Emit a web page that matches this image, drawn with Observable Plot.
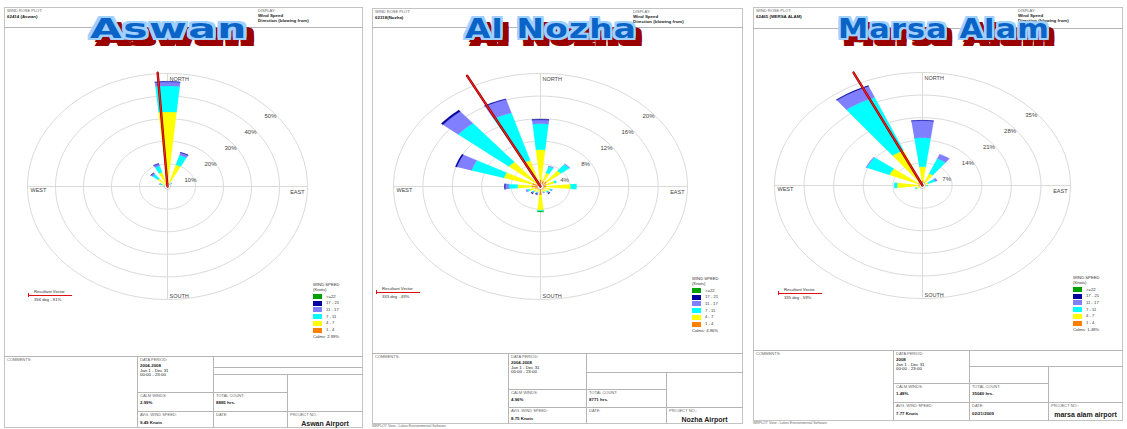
<!DOCTYPE html>
<html><head><meta charset="utf-8">
<script src="https://cdn.jsdelivr.net/npm/d3@7"></script>
<script src="https://cdn.jsdelivr.net/npm/@observablehq/plot@0.6"></script>
<style>
body{margin:0;background:#fff;}
#page{position:relative;width:1127px;height:429px;overflow:hidden;background:#fff;font-family:"Liberation Sans",Arial,sans-serif;}
.box{position:absolute;border:1px solid #c4c4c4;box-sizing:border-box;}
.hl{position:absolute;height:0;border-top:1px solid #b5b5b5;}
.vl{position:absolute;width:0;border-left:1px solid #b5b5b5;}
.lab{position:absolute;font-size:4px;color:#666;white-space:nowrap;line-height:1;}
.val{position:absolute;font-size:4.4px;color:#222;font-weight:bold;white-space:nowrap;line-height:1;}
.proj{position:absolute;font-size:7px;color:#222;font-weight:bold;white-space:nowrap;line-height:1;transform:translateX(-50%);}
.title{position:absolute;font-family:"DejaVu Sans",sans-serif;font-weight:bold;font-size:27px;line-height:1;color:#0a64c8;white-space:nowrap;letter-spacing:1px;
 text-shadow:-2px -2px 0 #9fd0ff,2px -2px 0 #9fd0ff,-2px 2px 0 #9fd0ff,2px 2px 0 #9fd0ff,0 2px 0 #9fd0ff,2px 0 0 #9fd0ff,0 -2px 0 #9fd0ff,-2px 0 0 #9fd0ff,
 3px 4px 0 #9a0000,7px 8px 0 #9a0000,7px 4px 0 #9a0000,3px 8px 0 #9a0000,5px 6px 0 #9a0000,6px 8px 0 #9a0000;transform-origin:0 0;}
.leg{position:absolute;font-size:4.2px;color:#333;white-space:nowrap;line-height:1;}
.sw{position:absolute;width:9px;height:5px;}
.plotwrap{position:absolute;}
</style></head>
<body><div id="page"></div>
<script>
// ---------------- data ----------------
const stations = ["Aswan", "Al Nozha", "Marsa Alam"];
const stationIds = ["62414 (Aswan)", "62318(Nozha)", "62465 (MERSA ALAM)"];
const projectNames = ["Aswan Airport", "Nozha Airport", "marsa alam airport"];
const dataPeriods = [["2004-2008", "Jan 1 - Dec 31", "00:00 - 23:00"], ["2004-2008", "Jan 1 - Dec 31", "00:00 - 23:00"], ["2008", "Jan 1 - Dec 31", "00:00 - 23:00"]];
const calmWinds = ["2.99%", "4.96%", "1.48%"];
const totalCounts = ["8885 hrs.", "8771 hrs.", "35040 hrs."];
const avgSpeeds = ["9.49 Knots", "8.75 Knots", "7.77 Knots"];
const dates = ["", "", "02/21/2009"];
const resultantDir = [356, 333, 335];
const resultantPct = ["81%", "49%", "59%"];
const resultantLen = [50.5, 22, 38.6];

const speedBins = ["1 - 4", "4 - 7", "7 - 11", "11 - 17", "17 - 21", ">=22"];
const speedColors = ["#FF8000", "#FFFF00", "#00FFFF", "#8080FF", "#0000A0", "#00A000"];

const dirs16 = [0, 22.5, 45, 67.5, 90, 112.5, 135, 157.5, 180, 202.5, 225, 247.5, 270, 292.5, 315, 337.5];
const dirs12 = [0, 30, 60, 90, 120, 150, 180, 210, 240, 270, 300, 330];

// Aswan (% of time, per direction, per speed class)
const aswan_1_4   = [1.0, 0.5, 0.3, 0.2, 0.2, 0.2, 0.2, 0.2, 0.2, 0.2, 0.2, 0.3, 0.4, 0.8, 1.0, 1.0];
const aswan_4_7   = [32.0, 9.5, 1.0, 0.3, 0.2, 0.1, 0.1, 0.1, 0.1, 0.1, 0.1, 0.2, 0.5, 1.2, 3.5, 5.5];
const aswan_7_11  = [11.5, 4.5, 0.6, 0.1, 0, 0, 0, 0, 0, 0, 0, 0.1, 0.3, 0.8, 2.4, 3.0];
const aswan_11_17 = [1.8, 1.2, 0.2, 0, 0, 0, 0, 0, 0, 0, 0, 0, 0.1, 0.3, 0.8, 1.0];
const aswan_17_21 = [0.2, 0.1, 0, 0, 0, 0, 0, 0, 0, 0, 0, 0, 0, 0, 0.1, 0.1];
const aswan_22    = [0, 0, 0, 0, 0, 0, 0, 0, 0, 0, 0, 0, 0, 0, 0, 0];

// Al Nozha
const nozha_1_4   = [1.2, 1.0, 1.1, 0.8, 0.8, 0.6, 0.6, 0.5, 1.5, 0.6, 0.6, 0.8, 1.2, 1.2, 0.5, 1.0];
const nozha_4_7   = [5.3, 1.5, 2.5, 1.2, 3.3, 0.8, 0.6, 0.5, 2.7, 0.5, 0.6, 0.8, 1.9, 4.0, 5.1, 3.8];
const nozha_7_11  = [4.6, 1.2, 1.5, 0.3, 0.8, 0.2, 0.2, 0.1, 0.2, 0.1, 0.2, 0.3, 1.2, 4.6, 8.9, 8.8];
const nozha_11_17 = [0.7, 0.1, 0.1, 0, 0, 0.1, 0.2, 0.1, 0, 0.2, 0.2, 0.2, 0.5, 2.1, 2.7, 2.5];
const nozha_17_21 = [0.1, 0, 0, 0, 0, 0, 0.1, 0, 0, 0.1, 0.1, 0, 0.1, 0.2, 0.3, 0.1];
const nozha_22    = [0, 0, 0, 0, 0, 0, 0, 0, 0.1, 0, 0, 0, 0, 0, 0, 0];

// Marsa Alam (12 sectors)
const marsa_1_4   = [1.5, 1.0, 0.5, 0.5, 0.4, 0.3, 0.3, 0.4, 0.6, 1.0, 1.2, 1.5];
const marsa_4_7   = [4.3, 3.0, 1.0, 0.5, 0.2, 0.1, 0.2, 0.4, 1.0, 5.0, 7.3, 10.2];
const marsa_7_11  = [9.0, 5.0, 1.8, 0.3, 0, 0, 0, 0.1, 0.3, 0.7, 5.8, 17.9];
const marsa_11_17 = [5.3, 1.5, 0.5, 0, 0, 0, 0, 0, 0, 0, 0.2, 3.7];
const marsa_17_21 = [0.1, 0, 0, 0, 0, 0, 0, 0, 0, 0, 0, 0.2];
const marsa_22    = [0, 0, 0, 0, 0, 0, 0, 0, 0, 0, 0, 0];

const aswanRings = [10, 20, 30, 40, 50];
const nozhaRings = [4, 8, 12, 16, 20];
const marsaRings = [7, 14, 21, 28, 35];

const stationData = [
  {dirs: dirs16, bins: [aswan_1_4, aswan_4_7, aswan_7_11, aswan_11_17, aswan_17_21, aswan_22], rings: aswanRings},
  {dirs: dirs16, bins: [nozha_1_4, nozha_4_7, nozha_7_11, nozha_11_17, nozha_17_21, nozha_22], rings: nozhaRings},
  {dirs: dirs12, bins: [marsa_1_4, marsa_4_7, marsa_7_11, marsa_11_17, marsa_17_21, marsa_22], rings: marsaRings}
];

// ---------------- layout (page pixels) ----------------
const panels = [
  {left: 4, right: 363, top: 7, bottom: 428, hdr: 27, cx: 167, cy: 186, rx: 140, ry: 113, idRight: 258,
   tt: 356, c1: 137, c2: 213, c3: 287, hA: 367, hB: 374, hC: 392, hD: 411,
   titleX: 169, titleW: 158, legX: 313, legY: 283, resX: 28, resY: 290, half: 5.6, footer: false},
  {left: 372, right: 743, top: 8, bottom: 424, hdr: 27, cx: 540, cy: 186, rx: 147, ry: 113, idRight: 633,
   tt: 353, c1: 508, c2: 586, c3: 666, hA: null, hB: 372, hC: 389, hD: 407,
   titleX: 551, titleW: 172, legX: 692, legY: 277, resX: 376, resY: 287, half: 5.6, footer: true},
  {left: 753, right: 1123, top: 7, bottom: 421, hdr: 28, cx: 922, cy: 185, rx: 148, ry: 113, idRight: 1018,
   tt: 350, c1: 893, c2: 969, c3: 1048, hA: null, hB: 366, hC: 383, hD: 402,
   titleX: 944, titleW: 212, legX: 1073, legY: 276, resX: 778, resY: 288, half: 7.5, footer: true}
];

const page = document.getElementById("page");
function el(cls, x, y, txt, extra) {
  const d = document.createElement("div");
  d.className = cls; d.style.left = x + "px"; d.style.top = y + "px";
  if (txt != null) d.textContent = txt;
  if (extra) Object.assign(d.style, extra);
  page.appendChild(d); return d;
}
function hl(x1, x2, y) { el("hl", x1, y, null, {width: (x2 - x1) + "px"}); }
function vl(x, y1, y2) { el("vl", x, y1, null, {height: (y2 - y1) + "px"}); }

const rad = Math.PI / 180;

panels.forEach((p, si) => {
  const st = stationData[si];
  const R = d3.max(st.rings);
  // frame
  el("box", p.left, p.top, null, {width: (p.right - p.left) + "px", height: (p.bottom - p.top) + "px"});
  hl(p.left, p.right, p.hdr);
  el("lab", p.left + 3, p.top + 2, "WIND ROSE PLOT:");
  el("val", p.left + 3, p.top + 8, stationIds[si]);
  el("lab", p.idRight, p.top + 2, "DISPLAY:");
  el("val", p.idRight, p.top + 7, "Wind Speed");
  el("val", p.idRight, p.top + 11.5, "Direction (blowing from)");

  // rose via Plot
  const svgTop = 28, svgH = 322, svgW = p.right - p.left;
  const ox = p.cx - p.left, oy = p.cy - svgTop;

  const wedgeRows = [];
  st.dirs.forEach((a, i) => {
    let r0 = 0;
    st.bins.forEach((arr, b) => {
      const v = arr[i];
      if (!v) return;
      const r1 = r0 + v, id = i + "-" + b, n = 6;
      for (let k = 0; k <= n; k++) {
        const t = (a - p.half + 2 * p.half * k / n) * rad;
        wedgeRows.push({id, bin: speedBins[b], x: r1 * Math.sin(t), y: r1 * Math.cos(t)});
      }
      for (let k = n; k >= 0; k--) {
        const t = (a - p.half + 2 * p.half * k / n) * rad;
        wedgeRows.push({id, bin: speedBins[b], x: r0 * Math.sin(t), y: r0 * Math.cos(t)});
      }
      r0 = r1;
    });
  });

  const ringRows = [];
  st.rings.forEach(r => {
    for (let k = 0; k <= 180; k++) {
      const t = 2 * Math.PI * k / 180;
      ringRows.push({ring: r, x: r * Math.cos(t), y: r * Math.sin(t)});
    }
  });

  const compass = [
    {t: "NORTH", x: 0, y: R, dx: 2, dy: 6, anchor: "start"},
    {t: "SOUTH", x: 0, y: -R, dx: 2, dy: -3, anchor: "start"},
    {t: "WEST", x: -R, y: 0, dx: 3, dy: 4, anchor: "start"},
    {t: "EAST", x: R, y: 0, dx: -3, dy: 6, anchor: "end"}
  ];

  const va = resultantDir[si] * rad, L = resultantLen[si];
  const vec = [{x: 0, y: 0}, {x: L * Math.sin(va), y: L * Math.cos(va)}];
  const labAng = 44.4 * rad;

  const chart = Plot.plot({
    width: svgW, height: svgH, margin: 0,
    x: {domain: [-R, R], range: [ox - p.rx, ox + p.rx], axis: null},
    y: {domain: [-R, R], range: [oy + p.ry, oy - p.ry], axis: null},
    color: {domain: speedBins, range: speedColors},
    style: {background: "transparent", fontFamily: "Liberation Sans, Arial, sans-serif", overflow: "visible"},
    marks: [
      Plot.line(ringRows, {x: "x", y: "y", z: "ring", stroke: "#dadada", strokeWidth: 1}),
      Plot.ruleX([0], {y1: -R, y2: R, stroke: "#dadada"}),
      Plot.ruleY([0], {x1: -R, x2: R, stroke: "#dadada"}),
      Plot.line(wedgeRows, {x: "x", y: "y", z: "id", fill: "bin", stroke: "bin", strokeWidth: 0.3}),
      Plot.dot([{x: 0, y: 0}], {x: "x", y: "y", r: 3, fill: "white", stroke: "#999", strokeWidth: 0.5}),
      Plot.text(st.rings, {x: r => r * Math.cos(labAng), y: r => r * Math.sin(labAng), text: r => r + "%", dx: 3, dy: 9, fontSize: 6, fill: "#444", textAnchor: "middle"}),
      ...compass.map(c => Plot.text([c], {x: "x", y: "y", text: "t", dx: c.dx, dy: c.dy, textAnchor: c.anchor, fontSize: 5.5, fill: "#444"})),
      Plot.line(vec, {x: "x", y: "y", stroke: "#8a0000", strokeWidth: 2.4}),
      Plot.line(vec, {x: "x", y: "y", stroke: "#ff1a1a", strokeWidth: 1.2})
    ]
  });
  const wrap = el("plotwrap", p.left, svgTop);
  wrap.appendChild(chart);

  // title
  const t = el("title", 0, 15, stations[si]);
  const w = t.getBoundingClientRect().width;
  const s = p.titleW / w;
  t.style.transform = `scaleX(${s})`;
  t.style.left = (p.titleX - p.titleW / 2) + "px";

  // wind speed legend
  el("leg", p.legX, p.legY, "WIND SPEED");
  el("leg", p.legX, p.legY + 4.6, "(Knots)");
  speedBins.slice().reverse().forEach((b, k) => {
    const y = p.legY + 11 + k * 6.7;
    el("sw", p.legX, y, null, {background: speedColors[speedBins.indexOf(b)]});
    el("leg", p.legX + 13, y + 0.5, b);
  });
  el("leg", p.legX, p.legY + 11 + 6 * 6.7 + 0.5, "Calms: " + calmWinds[si]);

  // resultant vector legend
  el("leg", p.resX + 6, p.resY, "Resultant Vector");
  el("hl", p.resX, p.resY + 5, null, {width: "44px", borderTop: "1.5px solid #e01010"});
  el("vl", p.resX, p.resY + 3, null, {height: "4px", borderLeft: "1px solid #e01010"});
  el("leg", p.resX + 6, p.resY + 8, resultantDir[si] + " deg - " + resultantPct[si]);

  // bottom table
  hl(p.left, p.right, p.tt);
  vl(p.c1, p.tt, p.bottom);
  vl(p.c2, p.tt, p.bottom);
  if (p.hA) hl(p.c2, p.right, p.hA);
  hl(p.c2, p.right, p.hB);
  vl(p.c3, p.hB, p.bottom);
  hl(p.c1, p.c3, p.hC);
  hl(p.c1, p.right, p.hD);
  el("lab", p.left + 3, p.tt + 2, "COMMENTS:");
  el("lab", p.c1 + 3, p.tt + 2, "DATA PERIOD:");
  dataPeriods[si].forEach((l, k) => el("val", p.c1 + 3, p.tt + 8 + k * 4.6, l, k ? {fontWeight: "normal"} : {}));
  el("lab", p.c1 + 3, p.hC + 2, "CALM WINDS:");
  el("val", p.c1 + 3, p.hC + 9, calmWinds[si]);
  el("lab", p.c2 + 3, p.hC + 2, "TOTAL COUNT:");
  el("val", p.c2 + 3, p.hC + 9, totalCounts[si]);
  el("lab", p.c1 + 3, p.hD + 2, "AVG. WIND SPEED:");
  el("val", p.c1 + 3, p.hD + 10, avgSpeeds[si]);
  el("lab", p.c2 + 3, p.hD + 2, "DATE:");
  el("val", p.c2 + 3, p.hD + 10, dates[si]);
  el("lab", p.c3 + 3, p.hD + 2, "PROJECT NO.:");
  el("proj", (p.c3 + p.right) / 2, p.hD + 8.5, projectNames[si]);
  if (p.footer) el("lab", p.left, p.bottom + 1, "WRPLOT View - Lakes Environmental Software", {fontSize: "3.5px"});
});
</script></body></html>
